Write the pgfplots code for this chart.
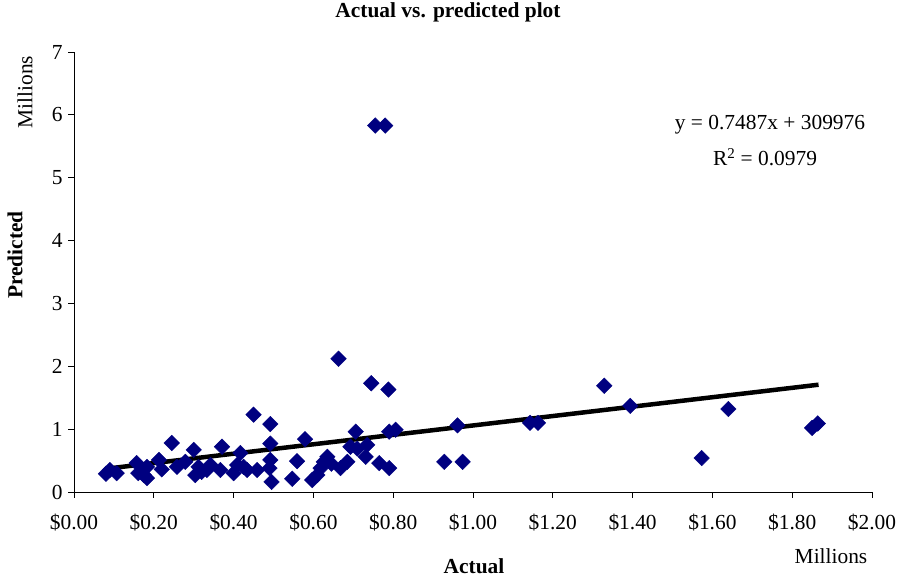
\documentclass[border=0pt]{standalone}
\usepackage{fontspec}
\setmainfont{Liberation Serif}
\usepackage{pgfplots}
\pgfplotsset{compat=1.18}
\definecolor{navy}{HTML}{000080}
\newcommand{\fs}{\fontsize{21.5}{26}\selectfont}
\begin{document}
\fs
\begin{tikzpicture}
\useasboundingbox (0,0) rectangle (897bp,578bp);
\begin{axis}[
  at={(74bp,86bp)}, anchor=south west,
  scale only axis, width=798bp, height=440bp,
  xmin=0, xmax=2, ymin=0, ymax=7,
  axis x line*=bottom, axis y line*=left,
  axis line style={black, line width=0.8bp, -},
  tick align=outside, major tick length=6bp,
  tick style={black, line width=0.8bp},
  xtick={0,0.2,0.4,0.6,0.8,1.0,1.2,1.4,1.6,1.8,2.0},
  xticklabels={\$0.00,\$0.20,\$0.40,\$0.60,\$0.80,\$1.00,\$1.20,\$1.40,\$1.60,\$1.80,\$2.00},
  ytick={0,1,2,3,4,5,6,7},
  yticklabels={0,1,2,3,4,5,6,7},
  tick label style={font=\fs},
  xticklabel style={yshift=-9bp},
  yticklabel style={xshift=2bp},
  clip=false,
]
\addplot[only marks, mark=square*, mark size=5.5bp,
  mark options={rotate=45, fill=navy, draw=navy}] coordinates {
(0.080,0.29) (0.090,0.35) (0.107,0.30) (0.157,0.46) (0.161,0.30)
(0.175,0.27) (0.183,0.22) (0.183,0.40) (0.213,0.51) (0.220,0.36)
(0.245,0.78) (0.258,0.40) (0.279,0.48) (0.300,0.67) (0.304,0.27)
(0.312,0.40) (0.320,0.32) (0.333,0.35) (0.342,0.43) (0.367,0.35)
(0.371,0.72) (0.400,0.30) (0.409,0.43) (0.417,0.62) (0.425,0.40)
(0.434,0.35) (0.450,1.23) (0.459,0.35) (0.492,1.08) (0.492,0.77)
(0.492,0.51) (0.490,0.38) (0.495,0.16) (0.547,0.21) (0.559,0.49)
(0.579,0.84) (0.597,0.19) (0.610,0.27) (0.618,0.38) (0.626,0.48)
(0.635,0.56) (0.645,0.45) (0.663,2.12) (0.668,0.38) (0.685,0.48)
(0.693,0.72) (0.706,0.96) (0.710,0.69) (0.731,0.56) (0.735,0.75)
(0.745,1.73) (0.755,5.83) (0.765,0.46) (0.780,5.83) (0.788,1.63)
(0.790,0.38) (0.790,0.96) (0.806,0.99) (0.928,0.48) (0.961,1.06)
(0.974,0.48) (1.143,1.10) (1.163,1.10) (1.329,1.69) (1.394,1.37)
(1.573,0.54) (1.640,1.32) (1.850,1.02) (1.864,1.09)
};
\addplot[black, line width=4.5bp, no marks] coordinates {(0.083,0.372) (1.866,1.707)};
\end{axis}
\node[font=\fs\bfseries] at (448bp,566bp) {Actual vs. predicted plot};
\node[font=\fs\bfseries, rotate=90] at (15bp,323bp) {Predicted};
\node[font=\fs, rotate=90] at (25bp,486bp) {Millions};
\node[font=\fs] at (831bp,22bp) {Millions};
\node[font=\fs\bfseries] at (474bp,12bp) {Actual};
\node[font=\fs] at (770bp,453bp) {y = 0.7487x + 309976};
\node[font=\fs] at (765bp,421bp) {R\textsuperscript{2} = 0.0979};
\end{tikzpicture}
\end{document}
